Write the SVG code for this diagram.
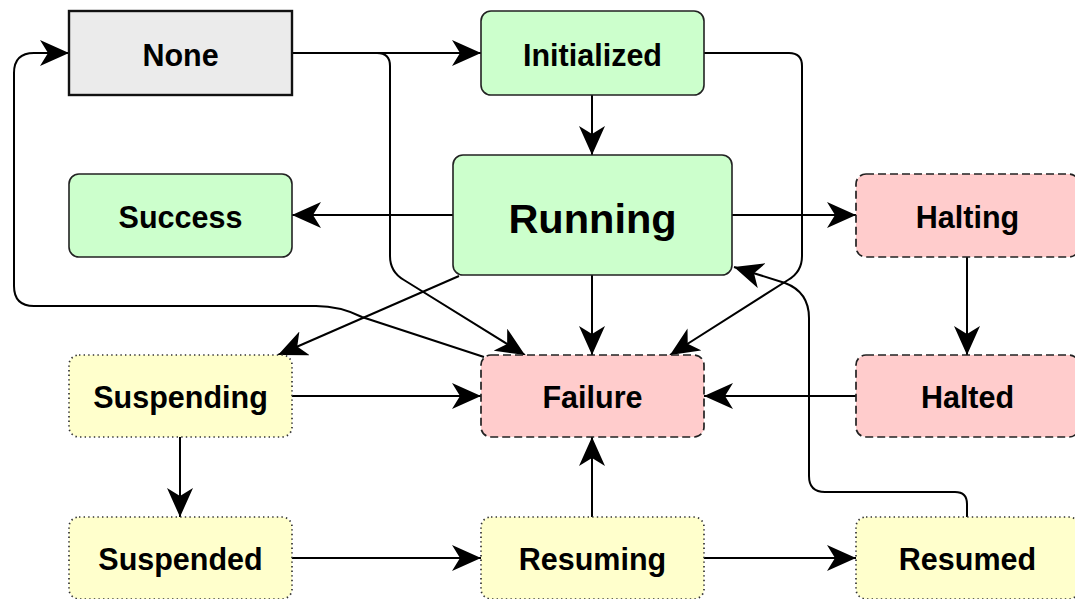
<svg xmlns="http://www.w3.org/2000/svg" width="1075" height="599" viewBox="0 0 1075 599">
  <style>
    .box-none { fill: #ebebeb; stroke: #111; stroke-width: 2.4; }
    .box-green { fill: #ccffcc; stroke: #222; stroke-width: 1.6; }
    .box-red { fill: #ffcccc; stroke: #222; stroke-width: 1.7; stroke-dasharray: 8 4; }
    .box-yellow { fill: #ffffcc; stroke: #333; stroke-width: 1.7; stroke-dasharray: 1.4 3.2; }
    .label { font-family: "Liberation Sans", Arial, Helvetica, sans-serif; font-weight: bold; font-size: 30.5px; fill: #000; text-anchor: middle; }
    .label-big { font-size: 41.5px; }
    .edge { fill: none; stroke: #000; stroke-width: 2; marker-end: url(#arrow); }
  </style>
  <defs>
    <marker id="arrow" viewBox="0 0 29 26" refX="29" refY="13" markerWidth="29" markerHeight="26" markerUnits="userSpaceOnUse" orient="auto">
      <path d="M29,13 L0,0 L8,13 L0,26 Z" fill="#000"/>
    </marker>
  </defs>

  <!-- connectors -->
  <g id="edges">
    <path class="edge" d="M292,53 H481"/>
    <path class="edge" d="M292,53 H377 Q390,53 390,66 V256 Q390,272 404,280 L525,355"/>
    <path class="edge" d="M592,95 V155"/>
    <path class="edge" d="M704,53 H789 Q802,53 802,66 V256 Q802,272 788,280 L670,355"/>
    <path class="edge" d="M453,215 H292"/>
    <path class="edge" d="M732,215 H856"/>
    <path class="edge" d="M592,275 V355"/>
    <path class="edge" d="M459,276 L278,355"/>
    <path class="edge" d="M484,357 L362,317 Q340,306 316,306 H34 Q14,306 14,286 V73 Q14,53 34,53 H69"/>
    <path class="edge" d="M292,396 H481"/>
    <path class="edge" d="M180,437 V517"/>
    <path class="edge" d="M292,558 H481"/>
    <path class="edge" d="M592,517 V437"/>
    <path class="edge" d="M704,558 H856"/>
    <path class="edge" d="M967,517 V504 Q967,492 955,492 H825 Q809,492 809,476 V318 Q809,292 785,283 L734,267"/>
    <path class="edge" d="M967,257 V355"/>
    <path class="edge" d="M856,396 H704"/>
  </g>

  <!-- states -->
  <g id="none">
    <rect class="box-none" x="69" y="11" width="223" height="84"/>
    <text class="label" x="180.5" y="66">None</text>
  </g>
  <g id="initialized">
    <rect class="box-green" x="481" y="11" width="223" height="84" rx="10"/>
    <text class="label" x="592.5" y="66">Initialized</text>
  </g>
  <g id="success">
    <rect class="box-green" x="69" y="174" width="223" height="83" rx="10"/>
    <text class="label" x="180.5" y="228">Success</text>
  </g>
  <g id="running">
    <rect class="box-green" x="453" y="155" width="279" height="120" rx="10"/>
    <text class="label label-big" x="592.5" y="233">Running</text>
  </g>
  <g id="halting">
    <rect class="box-red" x="856" y="174" width="223" height="83" rx="10"/>
    <text class="label" x="967.5" y="228">Halting</text>
  </g>
  <g id="suspending">
    <rect class="box-yellow" x="69" y="355" width="223" height="82" rx="10"/>
    <text class="label" x="180.5" y="408">Suspending</text>
  </g>
  <g id="failure">
    <rect class="box-red" x="481" y="355" width="223" height="82" rx="10"/>
    <text class="label" x="592.5" y="408">Failure</text>
  </g>
  <g id="halted">
    <rect class="box-red" x="856" y="355" width="223" height="82" rx="10"/>
    <text class="label" x="967.5" y="408">Halted</text>
  </g>
  <g id="suspended">
    <rect class="box-yellow" x="69" y="517" width="223" height="82" rx="10"/>
    <text class="label" x="180.5" y="570">Suspended</text>
  </g>
  <g id="resuming">
    <rect class="box-yellow" x="481" y="517" width="223" height="82" rx="10"/>
    <text class="label" x="592.5" y="570">Resuming</text>
  </g>
  <g id="resumed">
    <rect class="box-yellow" x="856" y="517" width="223" height="82" rx="10"/>
    <text class="label" x="967.5" y="570">Resumed</text>
  </g>
</svg>
